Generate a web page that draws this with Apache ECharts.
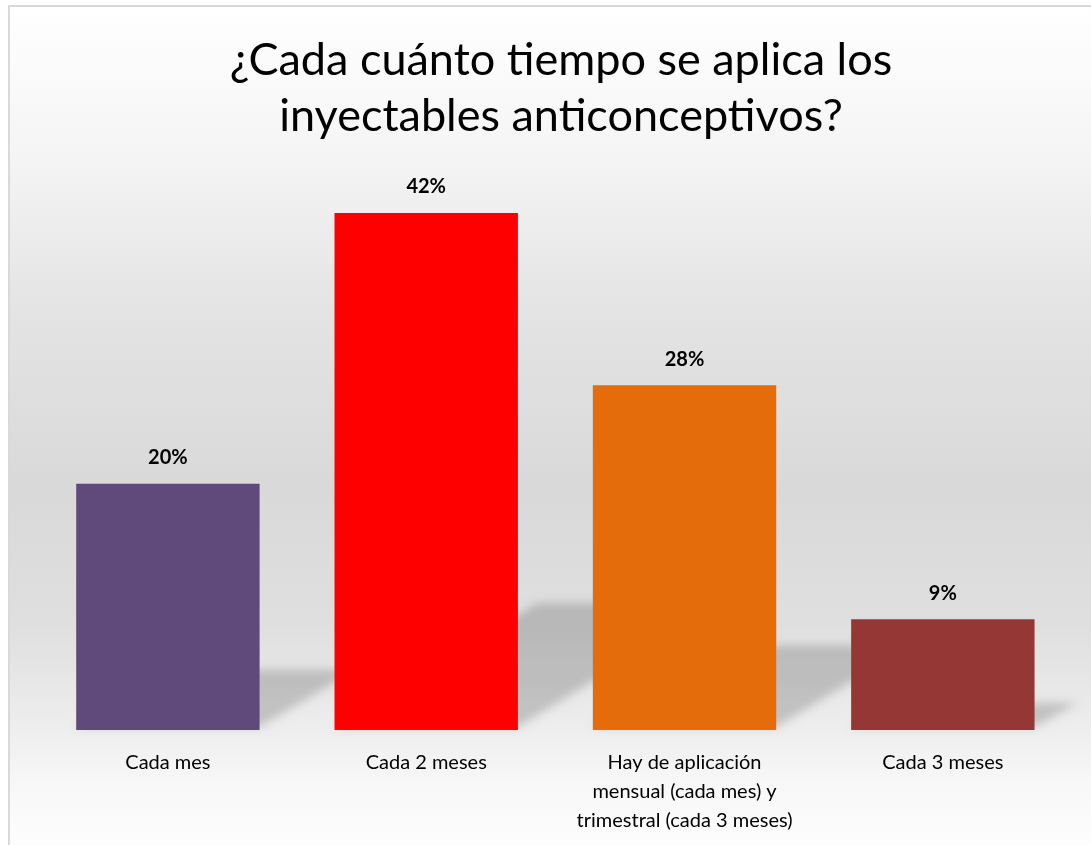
<!DOCTYPE html>
<html>
<head>
<meta charset="utf-8">
<script src="https://cdn.jsdelivr.net/npm/echarts@6/dist/echarts.min.js"></script>
<style>
  html, body { margin: 0; padding: 0; background: #ffffff; }
  #chart { width: 1091px; height: 845px; }
</style>
</head>
<body>
<div id="chart"></div>
<script>
// Survey answers: how often contraceptive injections are applied
const categories = [
  'Cada mes',
  'Cada 2 meses',
  'Hay de aplicación\nmensual (cada mes) y\ntrimestral (cada 3 meses)',
  'Cada 3 meses'
];
const percentages = [20, 42, 28, 9];
const barColors = ['#604a7b', '#ff0000', '#e46c0a', '#953735'];
const titleText = '¿Cada cuánto tiempo se aplica los\ninyectables anticonceptivos?';

const FONT = 'Lato, "Open Sans", sans-serif';
// the shape is drawn off-canvas so only its soft, blurred shadow lands on the floor
const SHIFT = 3000;

const chart = echarts.init(document.getElementById('chart'), null, { renderer: 'canvas' });

// Perspective floor shadow cast to the right of each bar
function renderShadow(params, api) {
  const idx = api.value(0);
  const val = api.value(1);
  const base = api.coord([idx, 0]);
  const top = api.coord([idx, val]);
  const size = api.size([1, 0]);
  const halfW = size[0] * 0.71 / 2;
  const xl = base[0] - halfW - SHIFT;
  const xr = base[0] + halfW - SHIFT;
  const y0 = base[1];
  const h = y0 - top[1];
  const sh = h * 0.245;
  const dx = sh * 1.6;
  return {
    type: 'polygon',
    shape: {
      points: [
        [xl, y0 - 3],
        [xr, y0 - 3],
        [xr + dx, y0 - sh],
        [xl + dx, y0 - sh]
      ]
    },
    style: {
      fill: '#000000',
      shadowBlur: 10,
      shadowOffsetX: SHIFT,
      shadowOffsetY: 0,
      shadowColor: 'rgba(0,0,0,0.175)'
    },
    z2: 0
  };
}

chart.setOption({
  backgroundColor: '#ffffff',
  animation: false,
  graphic: [
    {
      type: 'rect',
      z: -10,
      silent: true,
      shape: { x: 9, y: 6, width: 1100, height: 860 },
      style: {
        stroke: '#d9d9d9',
        lineWidth: 2,
        fill: {
          type: 'linear', x: 0, y: 0, x2: 0, y2: 1,
          colorStops: [
            { offset: 0.0, color: '#ffffff' },
            { offset: 0.17, color: '#f5f5f5' },
            { offset: 0.35, color: '#e4e4e4' },
            { offset: 0.56, color: '#d9d9d9' },
            { offset: 0.72, color: '#dfdfdf' },
            { offset: 0.85, color: '#efefef' },
            { offset: 0.9, color: '#f7f7f7' },
            { offset: 1.0, color: '#ffffff' }
          ]
        }
      }
    }
  ],
  title: {
    text: titleText,
    left: 556,
    top: 27,
    textAlign: 'center',
    textStyle: {
      fontFamily: FONT,
      fontSize: 45,
      lineHeight: 56,
      fontWeight: 'normal',
      color: '#000000'
    }
  },
  grid: { left: 38.75, right: 19, top: 176, bottom: 115 },
  xAxis: {
    type: 'category',
    data: categories,
    axisLine: { show: false },
    axisTick: { show: false },
    axisLabel: {
      interval: 0,
      margin: 18,
      fontFamily: FONT,
      fontSize: 20,
      lineHeight: 29,
      color: '#000000'
    }
  },
  yAxis: {
    type: 'value',
    min: 0,
    max: 45,
    show: false,
    splitLine: { show: false }
  },
  series: [
    {
      type: 'custom',
      renderItem: renderShadow,
      data: percentages.map((v, i) => [i, v]),
      clip: false,
      z: 1,
      silent: true
    },
    {
      type: 'bar',
      data: percentages.map((v, i) => ({ value: v, itemStyle: { color: barColors[i] } })),
      barWidth: '71%',
      z: 2,
      label: {
        show: true,
        position: 'top',
        distance: 16,
        formatter: '{c}%',
        fontFamily: FONT,
        fontSize: 20,
        fontWeight: 'bold',
        color: '#000000'
      }
    }
  ]
});
</script>
</body>
</html>
